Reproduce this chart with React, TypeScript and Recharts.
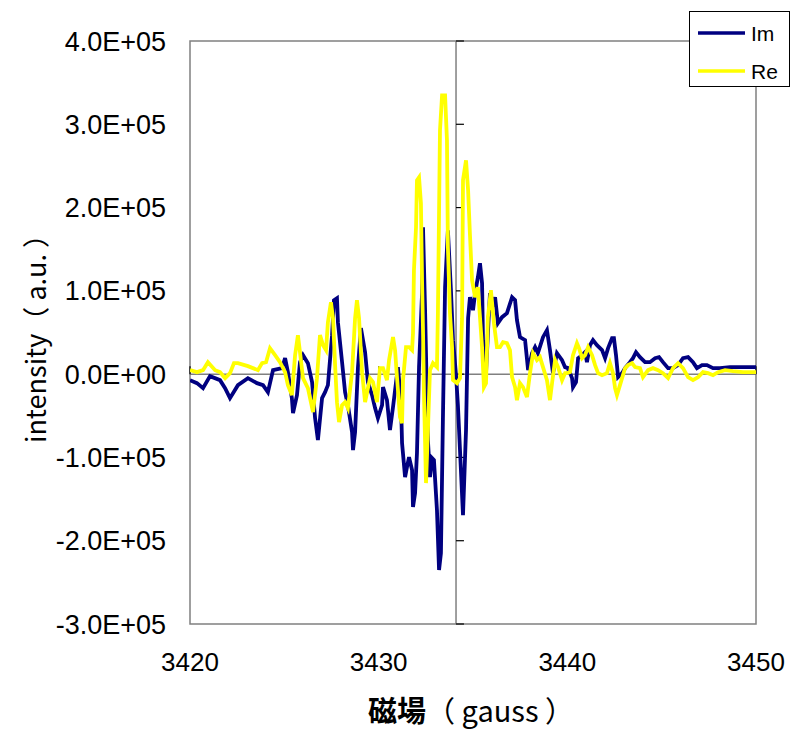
import React from 'react';
import {
  LineChart,
  Line,
  XAxis,
  YAxis,
  ReferenceLine,
  ReferenceArea,
} from 'recharts';

// Magnetic field (gauss) and intensity for the imaginary part
const imField = [
  3420.0, 3420.37, 3420.69, 3421.06, 3421.59, 3421.86, 3422.12, 3422.54, 3423.07, 3423.55,
  3423.87, 3424.13, 3424.4, 3424.88, 3425.04, 3425.19, 3425.4, 3425.46, 3425.67, 3425.83,
  3425.99, 3426.25, 3426.47, 3426.63, 3426.78, 3427.0, 3427.16, 3427.31, 3427.53, 3427.63,
  3427.79, 3427.84, 3428.06, 3428.22, 3428.37, 3428.59, 3428.64, 3428.75, 3428.9, 3429.06,
  3429.28, 3429.43, 3429.65, 3429.81, 3429.96, 3430.18, 3430.23, 3430.44, 3430.6, 3430.76,
  3430.87, 3431.02, 3431.18, 3431.24, 3431.4, 3431.5, 3431.61, 3431.77, 3431.82, 3431.93,
  3432.03, 3432.14, 3432.3, 3432.35, 3432.46, 3432.56, 3432.61, 3432.72, 3432.83, 3432.93,
  3433.09, 3433.2, 3433.3, 3433.41, 3433.52, 3433.67, 3433.83, 3433.94, 3434.1, 3434.2,
  3434.36, 3434.47, 3434.63, 3434.74, 3434.84, 3435.0, 3435.11, 3435.26, 3435.37, 3435.48,
  3435.53, 3435.69, 3435.79, 3435.9, 3436.01, 3436.17, 3436.32, 3436.54, 3436.8, 3437.07,
  3437.23, 3437.33, 3437.49, 3437.76, 3437.92, 3438.13, 3438.29, 3438.44, 3438.71, 3438.92,
  3439.08, 3439.24, 3439.45, 3439.72, 3439.88, 3440.04, 3440.25, 3440.3, 3440.46, 3440.57,
  3440.78, 3440.94, 3441.04, 3441.2, 3441.36, 3441.57, 3441.84, 3442.0, 3442.16, 3442.37,
  3442.47, 3442.58, 3442.69, 3442.9, 3443.06, 3443.32, 3443.48, 3443.64, 3443.85, 3444.12,
  3444.38, 3444.65, 3444.86, 3445.07, 3445.34, 3445.6, 3445.87, 3446.13, 3446.4, 3446.66,
  3446.87, 3447.14, 3447.4, 3447.72, 3448.09, 3448.62, 3449.15, 3450.0,
];
const imValue = [
  -7200, -10800, -16800, -2400, -7200, -16800, -28800, -13200, -4800, -10800,
  -13200, -21600, 4800, 7200, 19200, 2400, -28800, -46800, -25200, 14400,
  22800, 13200, -9600, -52800, -79200, -28800, -21600, -13200, 46800, 88800,
  91200, 62400, 14400, -21600, -37200, -69600, -91200, -69600, 7200, 55200,
  26400, -9600, -25200, -40800, -52800, -37200, -15600, -31200, -67200, -39600,
  -19200, 8400, -31200, -82800, -123600, -111600, -99600, -115200, -159600, -142800,
  -94800, 8400, 97200, 176400, 76800, -31200, -79200, -123600, -100800, -103200,
  -163200, -235200, -214800, -46800, 104400, 172800, 100800, 40800, -1200, -37200,
  -115200, -169200, -67200, 67200, 92400, 76800, 97200, 116400, 133200, 109200,
  40800, 1200, 49200, 97200, 80400, 92400, 61200, 68400, 73200, 92400,
  88800, 64800, 44400, 40800, 4800, 25200, 32400, 25200, 44400, 52800,
  28800, 1200, 25200, 16800, 8400, 7200, -4800, -15600, -9600, 19200,
  22800, 26400, 14400, 34800, 40800, 34800, 28800, 19200, 31200, 43200,
  43200, 22800, -3600, 1200, 7200, 14400, 19200, 26400, 20400, 14400,
  14400, 19200, 20400, 14400, 7200, 7200, 10800, 19200, 20400, 14400,
  7200, 10800, 10800, 7200, 7200, 8400, 8400, 8400,
];

// Magnetic field (gauss) and intensity for the real part
const reField = [
  3420.0, 3420.37, 3420.69, 3420.95, 3421.33, 3421.59, 3421.86, 3422.12, 3422.33, 3422.54,
  3423.07, 3423.6, 3423.82, 3424.03, 3424.24, 3424.51, 3424.77, 3425.04, 3425.19, 3425.4,
  3425.57, 3425.72, 3425.83, 3425.99, 3426.25, 3426.52, 3426.73, 3426.89, 3427.05, 3427.21,
  3427.31, 3427.47, 3427.58, 3427.69, 3427.79, 3427.9, 3428.06, 3428.22, 3428.37, 3428.59,
  3428.75, 3428.85, 3428.96, 3429.12, 3429.28, 3429.54, 3429.7, 3429.91, 3430.07, 3430.23,
  3430.44, 3430.55, 3430.76, 3430.87, 3430.97, 3431.13, 3431.24, 3431.29, 3431.45, 3431.61,
  3431.77, 3431.82, 3431.87, 3431.98, 3432.03, 3432.14, 3432.24, 3432.3, 3432.35, 3432.4,
  3432.51, 3432.61, 3432.72, 3432.88, 3433.09, 3433.14, 3433.25, 3433.36, 3433.52, 3433.62,
  3433.67, 3433.78, 3433.89, 3433.94, 3434.15, 3434.31, 3434.42, 3434.47, 3434.63, 3434.74,
  3434.84, 3434.95, 3435.11, 3435.26, 3435.48, 3435.58, 3435.69, 3435.79, 3435.95, 3436.11,
  3436.27, 3436.43, 3436.59, 3436.8, 3436.96, 3437.07, 3437.23, 3437.33, 3437.49, 3437.65,
  3437.86, 3438.02, 3438.18, 3438.39, 3438.55, 3438.71, 3438.92, 3439.08, 3439.19, 3439.35,
  3439.51, 3439.72, 3439.88, 3439.98, 3440.14, 3440.3, 3440.51, 3440.62, 3440.78, 3440.94,
  3441.1, 3441.31, 3441.47, 3441.63, 3441.84, 3442.1, 3442.26, 3442.42, 3442.53, 3442.63,
  3442.79, 3442.9, 3443.06, 3443.22, 3443.43, 3443.59, 3443.85, 3444.01, 3444.28, 3444.54,
  3444.81, 3445.07, 3445.34, 3445.6, 3445.87, 3446.13, 3446.4, 3446.66, 3446.93, 3447.19,
  3447.46, 3447.72, 3447.99, 3448.36, 3448.78, 3449.31, 3450.0,
];
const reValue = [
  4800, 2400, 4800, 14400, 4800, 2400, -4800, 1200, 13200, 13200,
  9600, 4800, 13200, 14400, 31200, 22800, 14400, 2400, -13200, -25200,
  22800, 46800, 26400, -4800, -16800, -45600, -4800, 46800, 34800, 28800,
  62400, 86400, 67200, 10800, -33600, -57600, -37200, -33600, -40800, 2400,
  67200, 88800, 67200, 2400, -33600, -4800, -9600, -33600, 7200, 7200,
  -7200, 16800, 44400, 28800, -3600, -51600, -58800, -7200, 32400, 32400,
  28800, 49200, 124800, 176400, 232800, 236400, 205200, 112800, 52800, -22800,
  -130800, -67200, 4800, 13200, 8400, 73200, 292800, 334800, 334800, 280800,
  152400, 73200, 32400, -7200, -10800, -4800, 67200, 232800, 256800, 220800,
  166800, 112800, 92400, 104400, 32400, -15600, -10800, 68400, 100800, 61200,
  32400, 32400, 38400, 37200, 28800, -3600, -15600, -31200, -10800, -15600,
  -27600, 1200, 25200, 16800, 20400, 8400, -7200, -31200, -10800, 16800,
  8400, -7200, 1200, 1200, 2400, 22800, 37200, 31200, 19200, 22800,
  32400, 22800, 10800, 1200, -1200, 1200, 13200, 1200, -16800, -25200,
  -13200, -4800, 7200, 10800, 13200, 8400, 7200, -3600, 4800, 7200,
  4800, 1200, -4800, 7200, 13200, 7200, -3600, -7200, -3600, 2400,
  1200, -1200, 2400, 4800, 3600, 2400, 2400,
];

const xTicks = [3420, 3430, 3440, 3450];
const yTicks = [-300000, -200000, -100000, 0, 100000, 200000, 300000, 400000];
const axisCross = 3434.1;

const imData = imField.map((g, i) => ({ g, v: imValue[i] }));
const reData = reField.map((g, i) => ({ g, v: reValue[i] }));

const IM_COLOR = '#000080';
const RE_COLOR = '#FFFF00';
const AXIS_GRAY = '#808080';
const FONT = '"Liberation Sans", Arial, sans-serif';
const JP_FONT = '"Noto Sans CJK JP", sans-serif';

const formatSci = (v: number) => {
  if (v === 0) return '0.0E+00';
  const sign = v < 0 ? '-' : '';
  return `${sign}${(Math.abs(v) / 100000).toFixed(1)}E+05`;
};

const LegendBox = () => (
  <svg width={102} height={77} style={{ display: 'block' }}>
    <rect x={0.5} y={0.5} width={100} height={75} fill="#fff" stroke="#000" />
    <line x1={9} x2={56} y1={22} y2={22} stroke={IM_COLOR} strokeWidth={3.5} />
    <text x={62} y={30} fontSize={21} fontFamily={FONT} fill="#000">Im</text>
    <line x1={9} x2={56} y1={60} y2={60} stroke={RE_COLOR} strokeWidth={3.5} />
    <text x={62} y={68} fontSize={21} fontFamily={FONT} fill="#000">Re</text>
  </svg>
);

export default function App() {
  return (
    <div style={{ position: 'absolute', left: 0, top: 0, width: 796, height: 734, background: '#fff' }}>
      <LineChart
        width={796}
        height={734}
        margin={{ top: 41, right: 40, bottom: 60, left: 70 }}
      >
        <XAxis
          dataKey="g"
          type="number"
          domain={[3420, 3450]}
          ticks={xTicks}
          allowDataOverflow
          axisLine={false}
          tickLine={false}
          tickSize={0}
          tickMargin={29}
          height={50}
          tick={{ fontSize: 26, fill: '#000', fontFamily: FONT }}
          label={{
            content: () => (
              <text x={471} y={722} textAnchor="middle" fontSize={29} fill="#000" fontFamily={JP_FONT}>
                <tspan fontWeight="bold">磁場</tspan>
                <tspan>（ gauss ）</tspan>
              </text>
            ),
          }}
        />
        <YAxis
          type="number"
          domain={[-300000, 400000]}
          ticks={yTicks}
          allowDataOverflow
          axisLine={false}
          tickLine={false}
          tickSize={0}
          tickMargin={24}
          width={120}
          tickFormatter={formatSci}
          tick={{ fontSize: 27, fill: '#000', fontFamily: FONT }}
          label={{
            content: () => (
              <text
                x={34}
                y={332}
                transform="rotate(-90 34 332)"
                textAnchor="middle"
                dominantBaseline="central"
                fontSize={27}
                fill="#000"
                fontFamily={JP_FONT}
              >
                intensity（ a.u. ）
              </text>
            ),
          }}
        />
        <ReferenceArea
          x1={3420}
          x2={3450}
          y1={-300000}
          y2={400000}
          fill="none"
          stroke={AXIS_GRAY}
          strokeWidth={1.5}
          ifOverflow="visible"
        />
        <ReferenceLine y={0} stroke={AXIS_GRAY} strokeWidth={1.5} />
        <ReferenceLine x={axisCross} stroke={AXIS_GRAY} strokeWidth={1.5} />
        {yTicks.map((t) => (
          <ReferenceLine
            key={`yt${t}`}
            segment={[
              { x: axisCross, y: t },
              { x: axisCross + 0.42, y: t },
            ]}
            stroke="#000"
            strokeWidth={1.2}
            ifOverflow="visible"
          />
        ))}
        {xTicks.map((t) => (
          <ReferenceLine
            key={`xt${t}`}
            segment={[
              { x: t, y: 0 },
              { x: t, y: 9600 },
            ]}
            stroke="#000"
            strokeWidth={1.2}
            ifOverflow="visible"
          />
        ))}
        <Line
          data={imData}
          dataKey="v"
          name="Im"
          type="linear"
          stroke={IM_COLOR}
          strokeWidth={3.8}
          dot={false}
          activeDot={false}
          isAnimationActive={false}
        />
        <Line
          data={reData}
          dataKey="v"
          name="Re"
          type="linear"
          stroke={RE_COLOR}
          strokeWidth={3.8}
          dot={false}
          activeDot={false}
          isAnimationActive={false}
        />
      </LineChart>
      <div style={{ position: 'absolute', left: 689, top: 11 }}>
        <LegendBox />
      </div>
    </div>
  );
}
